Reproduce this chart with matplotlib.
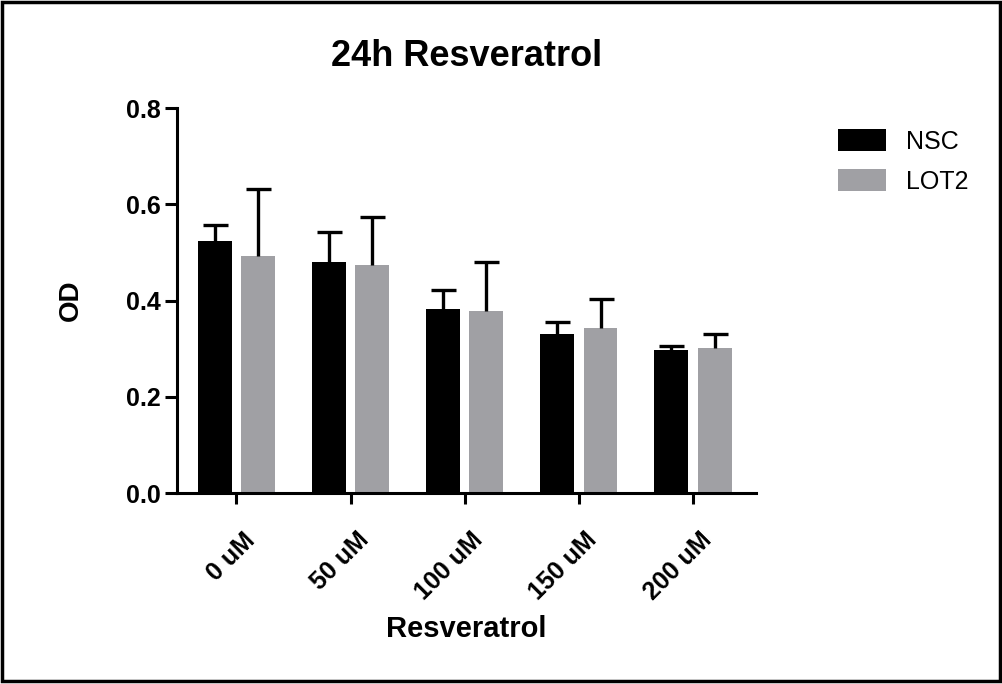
import matplotlib
matplotlib.use("Agg")
import matplotlib.pyplot as plt
import matplotlib.patches as mpatches
import matplotlib.transforms as mtransforms
import numpy as np

plt.rcParams['font.family'] = ['Liberation Sans', 'DejaVu Sans']

# data
doses = ['0 uM', '50 uM', '100 uM', '150 uM', '200 uM']
nsc_mean = [0.523, 0.481, 0.383, 0.331, 0.298]
nsc_err = [0.035, 0.061, 0.040, 0.025, 0.008]
lot2_mean = [0.492, 0.475, 0.379, 0.344, 0.302]
lot2_err = [0.139, 0.098, 0.102, 0.060, 0.029]
series_names = ['NSC', 'LOT2']
series_colors = ['#000000', '#a0a0a4']

fig = plt.figure(figsize=(10.03, 6.84), dpi=100)
ax = fig.add_axes([0.1765, 0.279, 0.577, 0.563])

x = np.arange(len(doses))
w = 0.296
off = 0.19
err_kw = dict(elinewidth=2.4, capthick=2.4, capsize=9, ecolor='black')
for vals, errs, sign, col, name in zip([nsc_mean, lot2_mean], [nsc_err, lot2_err],
                                        [-1, 1], series_colors, series_names):
    bc = ax.bar(x + sign * off, vals, w, color=col, label=name,
                yerr=[np.zeros(len(errs)), errs], error_kw=err_kw, zorder=2)
    # only the upper cap, like the original
    caps = bc.errorbar.lines[1]
    if len(caps) > 1:
        caps[0].set_visible(False)

ax.set_xlim(-0.52, 4.55)
ax.set_ylim(0, 0.8)
ax.set_yticks([0, 0.2, 0.4, 0.6, 0.8])
ax.set_yticklabels(['0.0', '0.2', '0.4', '0.6', '0.8'])
ax.set_xticks(x)
ax.set_xticklabels(doses, rotation=45, ha='right', va='top', rotation_mode='anchor')

for s in ['top', 'right']:
    ax.spines[s].set_visible(False)
for s in ['left', 'bottom']:
    ax.spines[s].set_linewidth(2.2)
ax.tick_params(axis='both', width=2.2, direction='out')
ax.tick_params(axis='y', length=9, labelsize=18, pad=3)
ax.tick_params(axis='x', length=8, labelsize=18, pad=17)
shift = mtransforms.ScaledTranslation(6 / 100, 0, fig.dpi_scale_trans)
for lab in ax.get_xticklabels():
    lab.set_fontweight('bold')
    lab.set_transform(lab.get_transform() + shift)
for lab in ax.get_yticklabels():
    lab.set_fontweight('bold')

ax.set_title('24h Resveratrol', fontsize=26, fontweight='bold', pad=30)
ax.set_xlabel('Resveratrol', fontsize=21, fontweight='bold', labelpad=7)
ax.set_ylabel('OD', fontsize=20, fontweight='bold', labelpad=30)

ax.legend(loc='upper left', bbox_to_anchor=(0.826, 0.826), bbox_transform=fig.transFigure,
          frameon=False, fontsize=18, handlelength=1.92, handleheight=1.0,
          handletextpad=0.8, labelspacing=0.6, borderaxespad=0)

# black frame around the whole picture
fig.patches.append(mpatches.Rectangle((0.002, 0.005), 0.995, 0.992, transform=fig.transFigure,
                                      fill=False, edgecolor='black', linewidth=2.5))

fig.savefig('out.png', dpi=100, facecolor='white')
